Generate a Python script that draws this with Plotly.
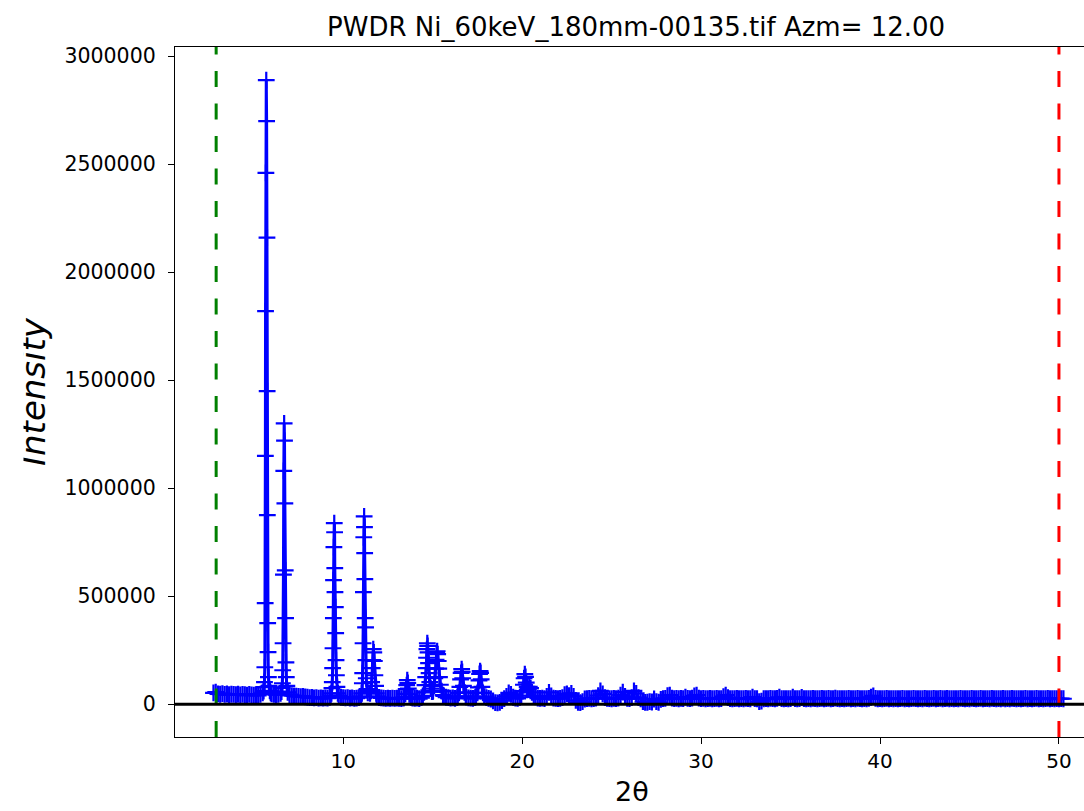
import plotly.graph_objects as go

# ---------------- data ----------------
bg_two_theta = [
    2.75, 2.875,
    3.0, 3.125, 3.25, 3.375, 3.5, 3.625, 3.75, 3.875,
    4.0, 4.125, 4.25, 4.375, 4.5, 4.625, 4.75, 4.875,
    5.0, 5.125, 5.25, 5.375, 5.5, 5.625, 5.75, 5.875,
    6.0, 6.125, 6.25, 6.375, 6.5, 6.625, 6.75, 6.875,
    7.0, 7.125, 7.25, 7.375, 7.5, 7.625, 7.75, 7.875,
    8.0, 8.125, 8.25, 8.375, 8.5, 8.625, 8.75, 8.875,
    9.0, 9.125, 9.25, 9.375, 9.5, 9.625, 9.75, 9.875,
    10.0, 10.125, 10.25, 10.375, 10.5, 10.625, 10.75, 10.875,
    11.0, 11.125, 11.25, 11.375, 11.5, 11.625, 11.75, 11.875,
    12.0, 12.125, 12.25, 12.375, 12.5, 12.625, 12.75, 12.875,
    13.0, 13.125, 13.25, 13.375, 13.5, 13.625, 13.75, 13.875,
    14.0, 14.125, 14.25, 14.375, 14.5, 14.625, 14.75, 14.875,
    15.0, 15.125, 15.25, 15.375, 15.5, 15.625, 15.75, 15.875,
    16.0, 16.125, 16.25, 16.375, 16.5, 16.625, 16.75, 16.875,
    17.0, 17.125, 17.25, 17.375, 17.5, 17.625, 17.75, 17.875,
    18.0, 18.125, 18.25, 18.375, 18.5, 18.625, 18.75, 18.875,
    19.0, 19.125, 19.25, 19.375, 19.5, 19.625, 19.75, 19.875,
    20.0, 20.125, 20.25, 20.375, 20.5, 20.625, 20.75, 20.875,
    21.0, 21.125, 21.25, 21.375, 21.5, 21.625, 21.75, 21.875,
    22.0, 22.125, 22.25, 22.375, 22.5, 22.625, 22.75, 22.875,
    23.0, 23.125, 23.25, 23.375, 23.5, 23.625, 23.75, 23.875,
    24.0, 24.125, 24.25, 24.375, 24.5, 24.625, 24.75, 24.875,
    25.0, 25.125, 25.25, 25.375, 25.5, 25.625, 25.75, 25.875,
    26.0, 26.125, 26.25, 26.375, 26.5, 26.625, 26.75, 26.875,
    27.0, 27.125, 27.25, 27.375, 27.5, 27.625, 27.75, 27.875,
    28.0, 28.125, 28.25, 28.375, 28.5, 28.625, 28.75, 28.875,
    29.0, 29.125, 29.25, 29.375, 29.5, 29.625, 29.75, 29.875,
    30.0, 30.125, 30.25, 30.375, 30.5, 30.625, 30.75, 30.875,
    31.0, 31.125, 31.25, 31.375, 31.5, 31.625, 31.75, 31.875,
    32.0, 32.125, 32.25, 32.375, 32.5, 32.625, 32.75, 32.875,
    33.0, 33.125, 33.25, 33.375, 33.5, 33.625, 33.75, 33.875,
    34.0, 34.125, 34.25, 34.375, 34.5, 34.625, 34.75, 34.875,
    35.0, 35.125, 35.25, 35.375, 35.5, 35.625, 35.75, 35.875,
    36.0, 36.125, 36.25, 36.375, 36.5, 36.625, 36.75, 36.875,
    37.0, 37.125, 37.25, 37.375, 37.5, 37.625, 37.75, 37.875,
    38.0, 38.125, 38.25, 38.375, 38.5, 38.625, 38.75, 38.875,
    39.0, 39.125, 39.25, 39.375, 39.5, 39.625, 39.75, 39.875,
    40.0, 40.125, 40.25, 40.375, 40.5, 40.625, 40.75, 40.875,
    41.0, 41.125, 41.25, 41.375, 41.5, 41.625, 41.75, 41.875,
    42.0, 42.125, 42.25, 42.375, 42.5, 42.625, 42.75, 42.875,
    43.0, 43.125, 43.25, 43.375, 43.5, 43.625, 43.75, 43.875,
    44.0, 44.125, 44.25, 44.375, 44.5, 44.625, 44.75, 44.875,
    45.0, 45.125, 45.25, 45.375, 45.5, 45.625, 45.75, 45.875,
    46.0, 46.125, 46.25, 46.375, 46.5, 46.625, 46.75, 46.875,
    47.0, 47.125, 47.25, 47.375, 47.5, 47.625, 47.75, 47.875,
    48.0, 48.125, 48.25, 48.375, 48.5, 48.625, 48.75, 48.875,
    49.0, 49.125, 49.25, 49.375, 49.5, 49.625, 49.75, 49.875,
    50.0, 50.125, 50.25,
]

bg_intensity = [
    52000, 56000,
    48000, 46000, 49000, 45000, 47000, 44000, 46000, 45000,
    44000, 46000, 43000, 45000, 44000, 42000, 45000, 43000,
    42000, 44000, 41000, 46000, 50000, 60000, 60000, 60000,
    48000, 46000, 44000, 46000, 50000, 50000, 50000, 50000,
    44000, 40000, 38000, 37000, 36000, 35000, 36000, 34000,
    32000, 30000, 31000, 29000, 30000, 28000, 29000, 28000,
    29000, 28000, 32000, 40000, 40000, 40000, 40000, 32000,
    30000, 29000, 30000, 28000, 29000, 27000, 28000, 30000,
    36000, 40000, 40000, 52000, 50000, 50000, 50000, 36000,
    31000, 29000, 28000, 27000, 28000, 27000, 28000, 27000,
    28000, 27000, 26000, 28000, 30000, 30000, 30000, 28000,
    27000, 28000, 26000, 30000, 40000, 40000, 40000, 40000,
    58000, 60000, 60000, 60000, 60000, 38000, 32000, 30000,
    28000, 29000, 27000, 30000, 40000, 40000, 40000, 33000,
    29000, 28000, 27000, 30000, 40000, 40000, 40000, 40000,
    30000, 27000, 24000, 15000, 7000, 6000, 8000, 16000,
    26000, 36000, 52000, 45000, 32000, 28000, 27000, 32000,
    40000, 40000, 40000, 40000, 40000, 40000, 34000, 28000,
    27000, 28000, 26000, 36000, 55000, 38000, 28000, 27000,
    26000, 27000, 30000, 44000, 48000, 40000, 50000, 36000,
    18000, 8000, 7000, 12000, 24000, 26000, 27000, 25000,
    26000, 28000, 40000, 62000, 48000, 30000, 27000, 26000,
    25000, 27000, 26000, 28000, 42000, 56000, 36000, 27000,
    26000, 30000, 62000, 50000, 30000, 25000, 12000, 8000,
    9000, 12000, 10000, 24000, 12000, 9000, 22000, 26000,
    27000, 40000, 42000, 28000, 26000, 27000, 25000, 27000,
    26000, 33000, 27000, 26000, 28000, 38000, 42000, 28000,
    26000, 27000, 25000, 26000, 27000, 25000, 26000, 27000,
    25000, 26000, 35000, 42000, 30000, 26000, 25000, 26000,
    27000, 25000, 26000, 25000, 27000, 26000, 25000, 33000,
    26000, 25000, 12000, 14000, 25000, 26000, 25000, 27000,
    26000, 25000, 27000, 32000, 26000, 25000, 26000, 25000,
    26000, 32000, 26000, 25000, 26000, 31000, 26000, 25000,
    26000, 25000, 27000, 26000, 25000, 26000, 27000, 25000,
    26000, 27000, 25000, 26000, 28000, 26000, 25000, 26000,
    25000, 26000, 27000, 25000, 26000, 25000, 27000, 26000,
    25000, 26000, 25000, 27000, 32000, 38000, 27000, 25000,
    26000, 25000, 26000, 27000, 25000, 26000, 25000, 26000,
    25000, 26000, 27000, 25000, 26000, 25000, 26000, 27000,
    26000, 25000, 26000, 25000, 27000, 26000, 25000, 26000,
    27000, 25000, 26000, 27000, 25000, 26000, 27000, 25000,
    26000, 25000, 26000, 25000, 27000, 26000, 25000, 26000,
    25000, 27000, 26000, 25000, 26000, 27000, 25000, 26000,
    26000, 25000, 27000, 26000, 25000, 26000, 25000, 27000,
    25000, 26000, 25000, 27000, 26000, 25000, 26000, 25000,
    26000, 27000, 25000, 26000, 25000, 26000, 27000, 25000,
    26000, 25000, 26000, 27000, 25000, 26000, 25000, 26000,
    25000, 26000, 25000,
]

# Bragg peaks (2theta, intensity)
p1_tth = [5.50, 5.55, 5.58, 5.60, 5.62, 5.64, 5.65, 5.66, 5.68, 5.70, 5.72, 5.74, 5.75, 5.76, 5.78, 5.80, 5.82, 5.85, 5.90, 5.95]
p1_int = [52000, 60000, 79000, 102000, 171000, 468000, 1150000, 1820000, 2460000, 2890000, 2700000, 2160000, 1450000, 875000, 375000, 241000, 125000, 85000, 62000, 52000]

p2_tth = [6.50, 6.55, 6.58, 6.60, 6.62, 6.64, 6.66, 6.68, 6.70, 6.72, 6.74, 6.76, 6.78, 6.80, 6.82, 6.85, 6.90]
p2_int = [50000, 58000, 75000, 97000, 157000, 282000, 600000, 1080000, 1300000, 1220000, 930000, 620000, 398000, 194000, 125000, 85000, 55000]

p3_tth = [9.30, 9.34, 9.37, 9.39, 9.41, 9.43, 9.45, 9.46, 9.48, 9.50, 9.52, 9.53, 9.54, 9.56, 9.58, 9.60, 9.62, 9.65, 9.70, 9.75]
p3_int = [38000, 50000, 74000, 102000, 167000, 259000, 398000, 574000, 727000, 838000, 796000, 630000, 519000, 449000, 329000, 204000, 134000, 80000, 50000, 38000]

p4_tth = [11.00, 11.04, 11.07, 11.09, 11.11, 11.13, 11.15, 11.17, 11.19, 11.20, 11.21, 11.23, 11.25, 11.27, 11.29, 11.33]
p4_int = [36000, 50000, 97000, 144000, 282000, 519000, 773000, 870000, 820000, 699000, 579000, 398000, 356000, 204000, 120000, 70000]

p5_tth = [11.50, 11.55, 11.59, 11.62, 11.65, 11.68, 11.71, 11.74, 11.77, 11.81, 11.85]
p5_int = [50000, 62000, 102000, 167000, 204000, 255000, 240000, 200000, 134000, 85000, 50000]

p6_tth = [13.40, 13.47, 13.52, 13.55, 13.58, 13.61, 13.64, 13.70, 13.78]
p6_int = [33000, 48000, 70000, 88000, 111000, 98000, 72000, 46000, 32000]

p7_tth = [14.45, 14.52, 14.57, 14.61, 14.64, 14.66, 14.68, 14.70, 14.72, 14.74, 14.77, 14.80, 14.84, 14.90, 14.96]
p7_int = [38000, 55000, 88000, 125000, 167000, 215000, 255000, 282000, 270000, 240000, 190000, 144000, 102000, 72000, 58000]

p8_tth = [15.02, 15.08, 15.12, 15.16, 15.19, 15.22, 15.25, 15.28, 15.31, 15.34, 15.38, 15.43, 15.50, 15.58]
p8_int = [62000, 85000, 120000, 165000, 205000, 236000, 245000, 232000, 200000, 165000, 125000, 90000, 60000, 42000]

p9_tth = [16.40, 16.47, 16.52, 16.56, 16.59, 16.62, 16.65, 16.68, 16.72, 16.78, 16.85]
p9_int = [36000, 52000, 80000, 115000, 145000, 162000, 150000, 120000, 85000, 55000, 36000]

p10_tth = [17.42, 17.50, 17.55, 17.59, 17.62, 17.65, 17.68, 17.71, 17.75, 17.81, 17.88]
p10_int = [35000, 52000, 78000, 110000, 140000, 153000, 145000, 115000, 80000, 52000, 35000]

p11_tth = [19.95, 20.02, 20.07, 20.11, 20.15, 20.19, 20.23, 20.28]
p11_int = [40000, 60000, 90000, 120000, 139000, 126000, 100000, 80000]

p12_tth = [20.33, 20.40, 20.47, 20.55, 20.65]
p12_int = [70000, 80000, 74000, 55000, 38000]

limit_low = 2.9
limit_high = 50.0

title_text = "PWDR Ni_60keV_180mm-00135.tif Azm= 12.00"
x_ticks = [10, 20, 30, 40, 50]
y_ticks = [0, 500000, 1000000, 1500000, 2000000, 2500000, 3000000]

# ---------------- assemble the pattern ----------------
assert len(bg_two_theta) == len(bg_intensity), (len(bg_two_theta), len(bg_intensity))
peaks = [(p1_tth, p1_int), (p2_tth, p2_int), (p3_tth, p3_int), (p4_tth, p4_int),
         (p5_tth, p5_int), (p6_tth, p6_int), (p7_tth, p7_int), (p8_tth, p8_int),
         (p9_tth, p9_int), (p10_tth, p10_int), (p11_tth, p11_int), (p12_tth, p12_int)]
windows = []
for px, py in peaks:
    assert len(px) == len(py)
    windows.append((min(px), max(px)))

pts = [(x, y) for x, y in zip(bg_two_theta, bg_intensity)
       if not any(lo <= x <= hi for lo, hi in windows)]
for px, py in peaks:
    pts.extend(zip(px, py))
pts.sort()
tth = [p[0] for p in pts]
inten = [p[1] for p in pts]

# ---------------- figure ----------------
FONT = "DejaVu Sans"
W, H = 1084, 811
ML, MR, MT, MB = 175, 0, 47, 74
PW = W - ML - MR
PH = H - MT - MB

fig = go.Figure()
fig.add_trace(go.Scatter(
    x=tth, y=inten, mode="lines+markers",
    line=dict(color="#0000ff", width=3),
    marker=dict(symbol="cross-thin", size=12, color="#0000ff",
                line=dict(color="#0000ff", width=2.2)),
    showlegend=False, hoverinfo="x+y",
))

shapes = [
    dict(type="line", xref="x", yref="paper", x0=limit_low, x1=limit_low, y0=0, y1=1,
         line=dict(color="#008000", width=3, dash="16px,16.5px"), layer="above"),
    dict(type="line", xref="x", yref="paper", x0=limit_high, x1=limit_high, y0=0, y1=1,
         line=dict(color="#ff0000", width=3, dash="16px,16.5px"), layer="above"),
    dict(type="line", xref="paper", yref="y", x0=0, x1=1, y0=0, y1=0,
         line=dict(color="black", width=3), layer="above"),
]

annotations = [
    dict(text=title_text, xref="paper", yref="paper", x=(636 - ML) / PW, y=1,
         xanchor="center", yanchor="bottom", yshift=3, showarrow=False,
         font=dict(family=FONT, size=26, color="black")),
    dict(text="<i>Intensity</i>", xref="paper", yref="paper", x=(33 - ML) / PW, y=0.5,
         xanchor="center", yanchor="middle", textangle=-90, showarrow=False,
         font=dict(family=FONT, size=34, color="black")),
    dict(text=" ", xref="paper", yref="paper", x=(0 - ML) / PW, y=0.5,
         xanchor="left", yanchor="middle", width=22, height=260, borderpad=0,
         bgcolor="white", showarrow=False, font=dict(size=10)),
    dict(text="2θ", xref="paper", yref="paper", x=(632 - ML) / PW, y=-(792 - (H - MB)) / PH,
         xanchor="center", yanchor="middle", showarrow=False,
         font=dict(family=FONT, size=27, color="black")),
]

fig.update_layout(
    width=W, height=H,
    margin=dict(l=ML, r=MR, t=MT, b=MB, pad=0),
    paper_bgcolor="white", plot_bgcolor="white",
    shapes=shapes, annotations=annotations,
    showlegend=False,
    xaxis=dict(range=[0.6, 51.4], tickvals=x_ticks, ticks="outside", ticklen=6,
               tickwidth=1.3, tickcolor="black", showline=True, linecolor="black",
               linewidth=1.3, mirror=True, showgrid=False, zeroline=False,
               tickfont=dict(family=FONT, size=20, color="black")),
    yaxis=dict(range=[-152000, 3043000], tickvals=y_ticks, tickformat="d",
               ticks="outside", ticklen=6, tickwidth=1.3, tickcolor="black",
               showline=True, linecolor="black", linewidth=1.3, mirror=False,
               showgrid=False, zeroline=False, ticklabelstandoff=8,
               tickfont=dict(family=FONT, size=20.5, color="black")),
)

fig.write_html("out.html")
